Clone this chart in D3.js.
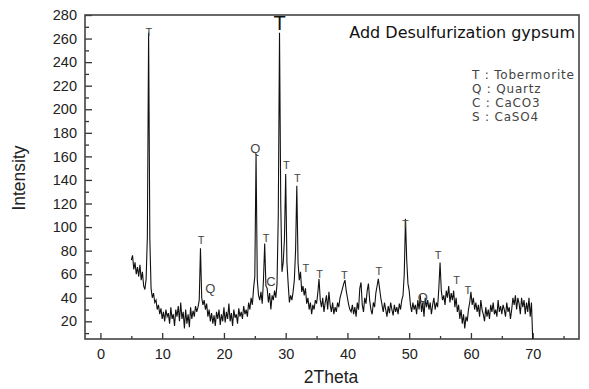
<!DOCTYPE html>
<html>
<head>
<meta charset="utf-8">
<script src="https://cdn.jsdelivr.net/npm/d3@7"></script>
<style>
  body { margin: 0; background: #fff; }
  svg { font-family: "Liberation Sans", Arial, sans-serif; }
</style>
</head>
<body>
<svg id="svg-container" width="589" height="389"></svg>
<script>
// XRD scan, 2theta from 5 to 70 deg, one reading every 0.2 deg
var angleStart = 5, angleStep = 0.2;
var intensity = [
	72, 76, 64, 70, 60, 66, 58, 68, 55, 62,
	50, 47, 56, 92, 265, 90, 48, 40, 44, 36,
	38, 30, 34, 26, 31, 22, 28, 20, 30, 24,
	27, 18, 32, 22, 26, 16, 30, 24, 33, 20,
	36, 22, 28, 14, 30, 18, 26, 15, 32, 22,
	29, 24, 33, 28, 32, 38, 82, 40, 34, 38,
	30, 35, 24, 30, 20, 27, 18, 25, 16, 28,
	22, 30, 17, 26, 20, 32, 19, 28, 22, 35,
	20, 27, 16, 30, 23, 26, 18, 31, 24, 28,
	22, 33, 26, 30, 24, 36, 30, 40, 34, 48,
	58, 162, 55, 42, 38, 45, 35, 55, 86, 50,
	48, 36, 44, 30, 42, 38, 46, 40, 52, 110,
	265, 120, 62, 70, 90, 145, 70, 52, 36, 42,
	38, 45, 55, 80, 135, 70, 55, 62, 45, 50,
	42, 48, 35, 40, 30, 36, 26, 34, 30, 38,
	35, 44, 56, 38, 32, 40, 28, 36, 42, 30,
	45, 34, 28, 36, 26, 32, 28, 36, 32, 40,
	44, 48, 52, 55, 46, 40, 34, 30, 28, 34,
	26, 32, 24, 36, 30, 48, 53, 34, 28, 40,
	35, 46, 52, 38, 30, 26, 36, 32, 44, 50,
	56, 48, 40, 34, 28, 36, 30, 24, 33, 27,
	36, 30, 25, 34, 28, 32, 26, 35, 30, 38,
	42, 60, 107, 72, 52, 46, 34, 28, 36, 30,
	34, 26, 38, 30, 42, 28, 36, 24, 40, 32,
	38, 30, 36, 26, 34, 40, 30, 36, 32, 48,
	70, 46, 38, 42, 34, 46, 40, 50, 36, 44,
	38, 46, 32, 40, 28, 34, 22, 30, 18, 26,
	14, 24, 20, 30, 36, 45, 34, 40, 30, 36,
	28, 34, 24, 38, 30, 26, 20, 32, 24, 30,
	22, 34, 28, 36, 26, 30, 24, 38, 28, 33,
	26, 34, 30, 24, 36, 28, 32, 22, 30, 40,
	34, 42, 30, 40, 35, 26, 40, 32, 38, 26,
	36, 28, 40, 24, 36, 5
];

// phase markers above the peaks
var markText = ['T', 'T', 'Q', 'Q', 'T', 'C', 'T', 'T', 'T', 'T', 'T', 'T', 'T', 'T', 'Q', 'T', 'T', 'T'];
var markAngle = [7.85, 16.3, 17.8, 25.1, 26.85, 27.6, 29.0, 30.1, 31.9, 33.25, 35.5, 39.5, 45.1, 49.4, 52.2, 54.7, 57.7, 59.5];
var markValue = [262, 86, 44, 163, 87, 50, 267, 149, 138, 62, 57, 56, 59, 99, 36, 73, 52, 43];

var legendLines = ['T : Tobermorite', 'Q : Quartz', 'C : CaCO3', 'S : CaSO4'];
var title = 'Add Desulfurization gypsum';

var xTicks = [0, 10, 20, 30, 40, 50, 60, 70],
	xMinor = [5, 15, 25, 35, 45, 55, 65, 75],
	yTicks = [20, 40, 60, 80, 100, 120, 140, 160, 180, 200, 220, 240, 260, 280],
	yMinor = [10, 30, 50, 70, 90, 110, 130, 150, 170, 190, 210, 230, 250, 270];

var svg = d3.select('#svg-container'),
	margin = { left: 85, top: 15, right: 10, bottom: 50 },
	width = +svg.attr('width') - margin.left - margin.right,
	height = +svg.attr('height') - margin.top - margin.bottom;

var x = d3.scaleLinear().domain([-2.5, 77.5]).range([0, width]);
var y = d3.scaleLinear().domain([5, 280]).range([height, 0]);

var g = svg.append('g').attr('transform', 'translate(' + margin.left + ',' + margin.top + ')');

// ticks point inward, no domain line (the frame is drawn separately)
g.append('g').attr('transform', 'translate(0,' + height + ')')
	.call(d3.axisBottom(x).tickValues(xTicks).tickSize(-6).tickPadding(10));
g.append('g').attr('transform', 'translate(0,' + height + ')')
	.call(d3.axisBottom(x).tickValues(xMinor).tickSize(-3).tickFormat(''));
g.append('g')
	.call(d3.axisLeft(y).tickValues(yTicks).tickSize(-7).tickPadding(8));
g.append('g')
	.call(d3.axisLeft(y).tickValues(yMinor).tickSize(-4).tickFormat(''));

g.selectAll('.domain').remove();
g.selectAll('.tick line').attr('stroke', '#333').attr('stroke-width', 1.3);
g.selectAll('.tick text').attr('font-size', 14.5).attr('fill', '#222');

// frame
g.append('rect')
	.attr('width', width)
	.attr('height', height)
	.attr('fill', 'none')
	.attr('stroke', '#444')
	.attr('stroke-width', 1.6);

// the scan itself
var line = d3.line()
	.x(function (d, i) { return x(angleStart + i * angleStep); })
	.y(function (d) { return y(d); });

g.append('path')
	.datum(intensity)
	.attr('fill', 'none')
	.attr('stroke', '#111')
	.attr('stroke-width', 1.1)
	.attr('d', line);

// peak labels
g.selectAll('.mark')
	.data(markText)
	.enter().append('text')
	.attr('class', 'mark')
	.attr('x', function (d, i) { return x(markAngle[i]); })
	.attr('y', function (d, i) { return y(markValue[i]); })
	.attr('text-anchor', 'middle')
	.attr('font-size', function (d, i) { return markAngle[i] === 29.0 ? 20 : (d === 'T' ? 11 : 13); })
	.attr('fill', function (d, i) { return markAngle[i] === 29.0 ? '#111' : '#444'; })
	.text(function (d) { return d; });

// title and legend
svg.append('text')
	.attr('x', 575)
	.attr('y', 38)
	.attr('text-anchor', 'end')
	.attr('font-family', '"DejaVu Sans", sans-serif')
	.attr('font-size', 16)
	.attr('fill', '#111')
	.text(title);

svg.selectAll('.legend')
	.data(legendLines)
	.enter().append('text')
	.attr('class', 'legend')
	.attr('x', 472)
	.attr('y', function (d, i) { return 79 + i * 14; })
	.attr('font-family', '"DejaVu Sans", sans-serif')
	.attr('font-size', 12)
	.attr('letter-spacing', 0.8)
	.attr('fill', '#444')
	.text(function (d) { return d; });

// axis titles
svg.append('text')
	.attr('x', 331)
	.attr('y', 383)
	.attr('text-anchor', 'middle')
	.attr('font-size', 17.5)
	.attr('fill', '#222')
	.text('2Theta');

svg.append('text')
	.attr('transform', 'translate(25,178) rotate(-90)')
	.attr('text-anchor', 'middle')
	.attr('font-size', 17.5)
	.attr('fill', '#222')
	.text('Intensity');
</script>
</body>
</html>
